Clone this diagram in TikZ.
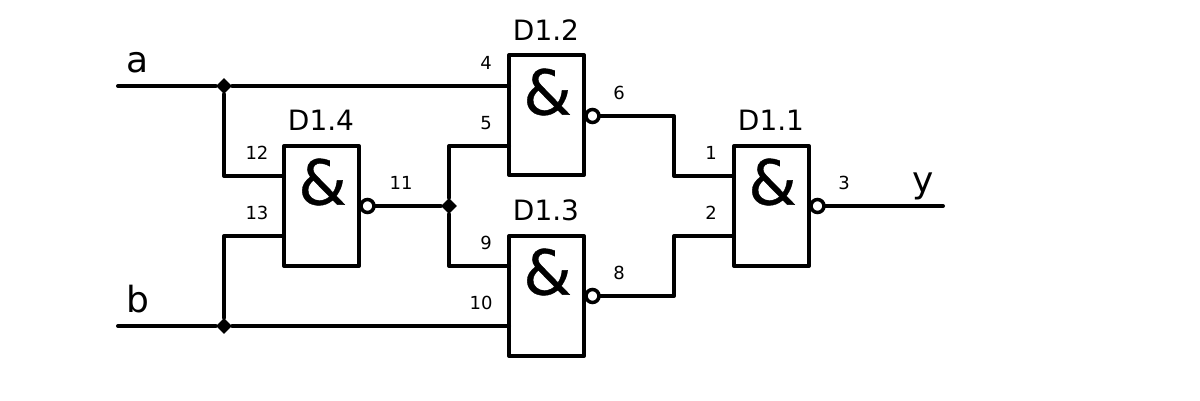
\documentclass[tikz,border=0pt]{standalone}
\usepackage{fontspec}
\setmainfont{DejaVu Sans}
\newfontfamily\ampfont[FakeBold=0.6]{DejaVu Sans}
\usetikzlibrary{shapes.geometric}
\tikzset{
  wire/.style={line width=4pt,line cap=round,line join=round},
  gate/.style={draw,line width=4pt,minimum width=75pt,minimum height=120pt,inner sep=0pt,outer sep=0pt,line join=round},
  amp/.style={font=\ampfont\fontsize{62}{62}\selectfont,inner sep=0pt},
  bubble/.style={circle,draw,line width=3.5pt,fill=white,minimum size=13pt,inner sep=0pt,outer sep=1pt},
  jdot/.style={diamond,fill=black,minimum size=16pt,inner sep=0pt},
  gname/.style={font=\fontsize{28}{28}\selectfont,inner sep=0pt},
  pin/.style={font=\fontsize{18}{18}\selectfont,inner sep=0pt},
  sig/.style={font=\fontsize{36}{36}\selectfont,inner sep=0pt}
}
\begin{document}
\begin{tikzpicture}[x=1pt,y=-1pt]
\useasboundingbox (0,0) rectangle (1200,400);
\fill[white] (0,0) rectangle (1200,400);
% gates
\node[gate] (g2) at (546.5,115) {};
\node[gate] (g4) at (321.5,206) {};
\node[gate] (g3) at (546.5,296) {};
\node[gate] (g1) at (771.5,206) {};
\node[amp] (a2) at (547.5,92) {\&};
\node[amp] (a4) at (322.5,182) {\&};
\node[amp] (a3) at (547.5,272) {\&};
\node[amp] (a1) at (772.5,182) {\&};
% junctions and ends
\coordinate (ina) at (118,86);
\coordinate (inb) at (118,326);
\coordinate (outy) at (943,206);
\node[jdot] (ja) at (224,86) {};
\node[jdot] (jb) at (224,326) {};
\node[jdot] (jm) at (449,206) {};
% bubbles
\node[bubble] (b2) at (592.5,116) {};
\node[bubble] (b4) at (367.5,206) {};
\node[bubble] (b3) at (592.5,296) {};
\node[bubble] (b1) at (817.5,206) {};
% wires
\draw[wire] (ina) -- (ja) -- (ja -| g2.west);
\draw[wire] (ja) -- (ja |- 0,176) -- (g4.west |- 0,176);
\draw[wire] (inb) -- (jb) -- (jb -| g3.west);
\draw[wire] (jb) -- (jb |- 0,236) -- (g4.west |- 0,236);
\draw[wire] (b4) -- (jm);
\draw[wire] (jm) -- (jm |- 0,146) -- (g2.west |- 0,146);
\draw[wire] (jm) -- (jm |- 0,266) -- (g3.west |- 0,266);
\draw[wire] (b2) -- (674,116) -- (674,176) -- (g1.west |- 0,176);
\draw[wire] (b3) -- (674,296) -- (674,236) -- (g1.west |- 0,236);
\draw[wire] (b1) -- (outy);
% gate names
\node[gname] (n2) at (546,30) {D1.2};
\node[gname] (n4) at (321,120) {D1.4};
\node[gname] (n3) at (546,210) {D1.3};
\node[gname] (n1) at (771,120) {D1.1};
% pins
\node[pin] (p4) at (486,63) {4};
\node[pin] (p5) at (486,123) {5};
\node[pin] (p6) at (619,93) {6};
\node[pin] (p12) at (257,153) {12};
\node[pin] (p13) at (257,213) {13};
\node[pin] (p11) at (401,183) {11};
\node[pin] (p9) at (486,243) {9};
\node[pin] (p10) at (481,303) {10};
\node[pin] (p8) at (619,273) {8};
\node[pin] (p1) at (711,153) {1};
\node[pin] (p2) at (711,213) {2};
\node[pin] (p3) at (844,183) {3};
% signals
\node[sig,anchor=base] (sa) at (138,72) {a};
\node[sig,anchor=base] (sb) at (138,312) {b};
\node[sig,anchor=base] (sy) at (923,192) {y};
\end{tikzpicture}
\end{document}
